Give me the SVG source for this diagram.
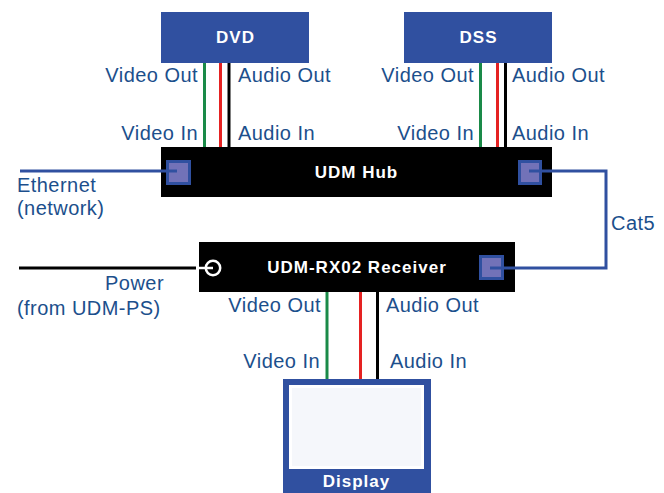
<svg xmlns="http://www.w3.org/2000/svg" width="664" height="493" viewBox="0 0 664 493">
<style>
.lbl{font-family:"Liberation Sans",Arial,sans-serif;font-size:20px;fill:#1c4f8c;letter-spacing:0.45px}
.bt{font-family:"Liberation Sans",Arial,sans-serif;font-size:17px;font-weight:bold;fill:#fff;text-anchor:middle;letter-spacing:1px}
.blue{fill:#3050a0}
.dev{fill:#000}
.port{fill:#7272b8;stroke:#3050a0;stroke-width:3}
.g{stroke:#1a8a48;stroke-width:3;fill:none}
.r{stroke:#e52222;stroke-width:3;fill:none}
.k{stroke:#000;stroke-width:3;fill:none}
.net{stroke:#3050a0;stroke-width:3;fill:none}
.end{text-anchor:end}
</style>
<rect width="664" height="493" fill="#fff"/>
<g id="connectors">
  <line class="g" x1="204.5" y1="62" x2="204.5" y2="148"/>
  <line class="r" x1="220.5" y1="62" x2="220.5" y2="148"/>
  <line class="k" x1="229" y1="62" x2="229" y2="148"/>
  <line class="g" x1="480.5" y1="62" x2="480.5" y2="151"/>
  <line class="r" x1="497.5" y1="62" x2="497.5" y2="152"/>
  <line class="k" x1="505.5" y1="62" x2="505.5" y2="148"/>
  <line class="g" x1="327" y1="292" x2="327" y2="380"/>
  <line class="r" x1="360.5" y1="292" x2="360.5" y2="380"/>
  <line class="k" x1="377.5" y1="292" x2="377.5" y2="380"/>
</g>
<g id="dvd">
  <rect class="blue" x="161" y="12" width="148" height="51"/>
  <text class="bt" x="235.5" y="43">DVD</text>
  <text class="lbl end" x="198" y="82">Video Out</text>
  <text class="lbl" x="238" y="82">Audio Out</text>
  <text class="lbl end" x="198" y="140">Video In</text>
  <text class="lbl" x="238" y="140">Audio In</text>
</g>
<g id="dss">
  <rect class="blue" x="404" y="12" width="148" height="51"/>
  <text class="bt" x="478.5" y="43">DSS</text>
  <text class="lbl end" x="474" y="82">Video Out</text>
  <text class="lbl" x="512" y="82">Audio Out</text>
  <text class="lbl end" x="474" y="140">Video In</text>
  <text class="lbl" x="512" y="140">Audio In</text>
</g>
<g id="hub">
  <rect class="dev" x="161" y="147" width="391" height="50"/>
  <text class="bt" x="356.5" y="178">UDM Hub</text>
  <rect class="port" x="167.5" y="161.5" width="22" height="22"/>
  <rect class="port" x="519.5" y="161.5" width="21" height="22"/>
</g>
<g id="receiver">
  <rect class="dev" x="199" y="242" width="316" height="50"/>
  <text class="bt" x="357" y="273">UDM-RX02 Receiver</text>
  <rect class="port" x="480.5" y="256.5" width="22" height="22"/>
  <line x1="196" y1="268" x2="213" y2="268" stroke="#fff" stroke-width="2.5"/>
  <circle cx="213" cy="268" r="7.2" fill="none" stroke="#fff" stroke-width="2.5"/>
</g>
<g id="receiver-labels">
  <text class="lbl end" x="321" y="312">Video Out</text>
  <text class="lbl" x="386" y="312">Audio Out</text>
  <text class="lbl end" x="320" y="368">Video In</text>
  <text class="lbl" x="390" y="368">Audio In</text>
</g>
<g id="ethernet">
  <line class="net" x1="20" y1="171" x2="177" y2="171"/>
  <text class="lbl" x="17" y="192">Ethernet</text>
  <text class="lbl" x="17" y="215">(network)</text>
</g>
<g id="cat5">
  <polyline class="net" points="529,171 606,171 606,268 490,268"/>
  <text class="lbl" x="611" y="230">Cat5</text>
</g>
<g id="power">
  <line x1="19" y1="268" x2="196" y2="268" stroke="#000" stroke-width="3"/>
  <text class="lbl end" x="164" y="290">Power</text>
  <text class="lbl" x="17" y="315">(from UDM-PS)</text>
</g>
<g id="display">
  <rect class="blue" x="283" y="379" width="148" height="114"/>
  <rect x="289" y="385" width="135" height="84" fill="#fff"/>
  <rect x="292" y="388" width="129" height="78" fill="#f5f7fb"/>
  <text class="bt" x="356.5" y="487">Display</text>
</g>
</svg>
